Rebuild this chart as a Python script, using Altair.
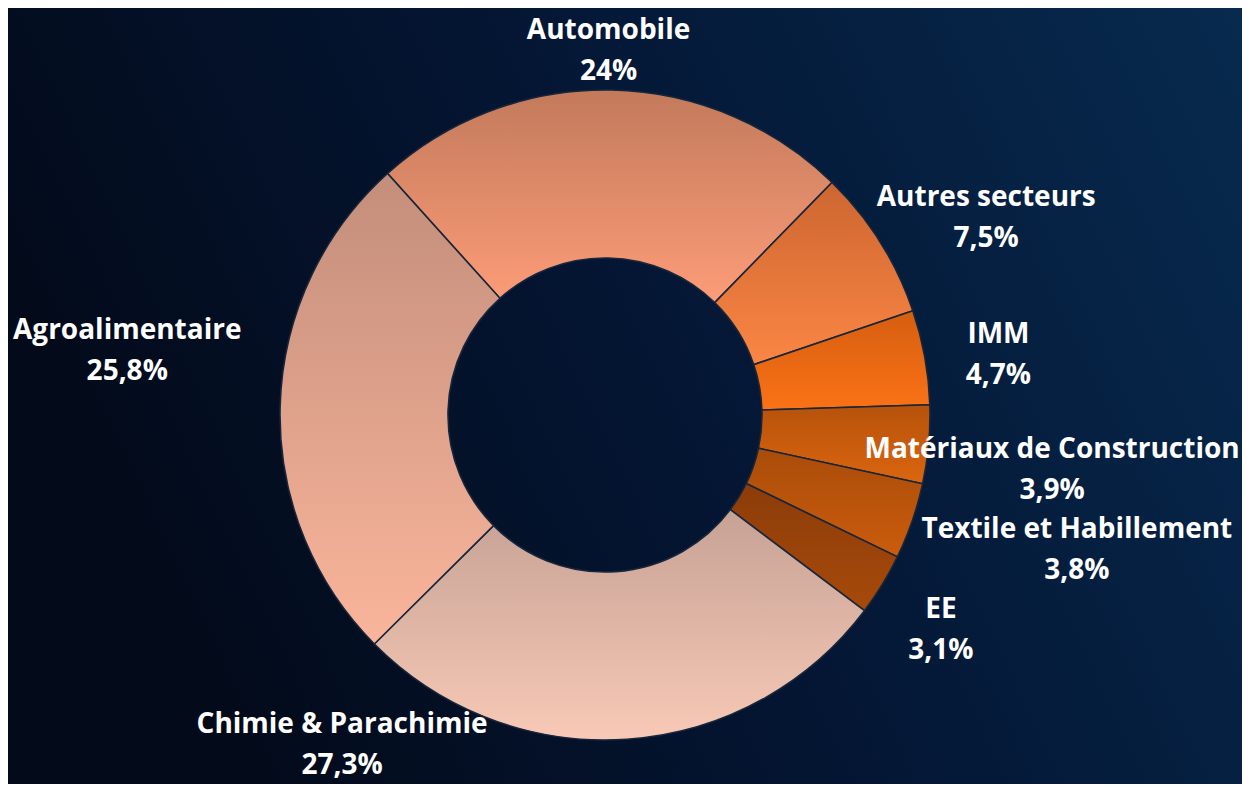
import math
import altair as alt
import pandas as pd

# ---- data ----
names = ["Automobile", "Autres secteurs", "IMM", "Matériaux de Construction",
         "Textile et Habillement", "EE", "Chimie & Parachimie", "Agroalimentaire"]
values = [24, 7.5, 4.7, 3.9, 3.8, 3.1, 27.3, 25.8]
pct_labels = ["24%", "7,5%", "4,7%", "3,9%", "3,8%", "3,1%", "27,3%", "25,8%"]

# ---- styles ----
grad_top = ["#c27a5b", "#cc6631", "#d55e10", "#b6520b", "#a94c0a", "#8c3c09", "#c6a295", "#c38e7b"]
grad_bot = ["#fd9c78", "#fb8644", "#fb7216", "#db660f", "#cb5c0c", "#a74a0b", "#f8c9b6", "#fab59b"]
# label placement: (angle offset from slice middle in degrees, radius in px)
label_place = {
    "Automobile": (-0.6, 364),
    "Autres secteurs": (4.9, 429),
    "IMM": (1.6, 398),
    "Matériaux de Construction": (1.84, 450.5),
    "Textile et Habillement": (-3.0, 491),
    "EE": (1.2, 399),
    "Chimie & Parachimie": (42.36, 422.6),
    "Agroalimentaire": (6.0, 482),
}

W, H = 1234, 776
CX, CY = 597, 407
LH = 41
total = sum(values)
start_rad = math.radians(-42.0)

df = pd.DataFrame({"name": names, "value": values, "pct": pct_labels})
df["end"] = df["value"].cumsum()
df["start"] = df["end"] - df["value"]
df["mid"] = (df["start"] + df["end"]) / 2
df["label"] = df["name"] + "\n" + df["pct"]

theta_scale = alt.Scale(domain=[0, total], range=[start_rad, start_rad + 2 * math.pi])

base = alt.Chart(df)

bg = alt.Chart(pd.DataFrame({"k": [0]})).mark_rect(
    fill=alt.Gradient(
        gradient="linear",
        stops=[alt.GradientStop(color="#030b1b", offset=0),
               alt.GradientStop(color="#041634", offset=0.45),
               alt.GradientStop(color="#072a4e", offset=1)],
        x1=0, x2=1, y1=0.3, y2=0.0,
    )
).encode(x=alt.value(0), x2=alt.value(W), y=alt.value(0), y2=alt.value(H))

layers = [bg]
for i, n in enumerate(names):
    g = alt.Gradient(
        gradient="linear",
        stops=[alt.GradientStop(color=grad_top[i], offset=0),
               alt.GradientStop(color=grad_bot[i], offset=1)],
        x1=0, x2=0, y1=0, y2=1,
    )
    arc = base.transform_filter(alt.datum.name == n).mark_arc(
        innerRadius=157, outerRadius=325, fill=g,
        stroke="#17263b", strokeWidth=1.6,
    ).encode(
        theta=alt.Theta("start:Q", scale=theta_scale),
        theta2="end:Q",
        x=alt.value(CX), y=alt.value(CY),
    )
    layers.append(arc)

for n in names:
    off_deg, r = label_place[n]
    txt = base.transform_filter(alt.datum.name == n).transform_calculate(
        lt=alt.datum.mid + off_deg / 360.0 * total
    ).mark_text(
        radius=r, lineBreak="\n", lineHeight=LH, font="Open Sans", fontSize=28,
        fontWeight="bold", color="white", align="center", baseline="middle",
        dy=-LH / 2,
    ).encode(
        theta=alt.Theta("lt:Q", scale=theta_scale),
        text="label:N",
        x=alt.value(CX), y=alt.value(CY),
    )
    layers.append(txt)

chart = alt.layer(*layers).properties(
    width=W, height=H, padding=0, background="#041226",
    autosize=alt.AutoSizeParams(type="none"),
).configure_view(strokeWidth=0)

chart.save("out.html", embed_options={"renderer": "svg", "actions": False})
